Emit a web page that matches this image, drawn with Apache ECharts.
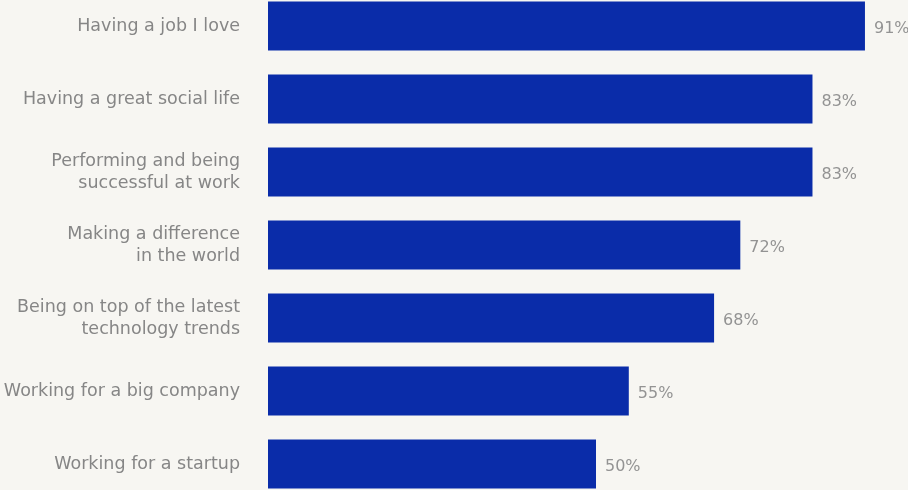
<!DOCTYPE html>
<html>
<head>
<meta charset="utf-8">
<script src="https://cdn.jsdelivr.net/npm/echarts@6/dist/echarts.min.js"></script>
<style>
html,body{margin:0;padding:0;background:#f7f6f2;}
#chart{width:908px;height:490px;}
</style>
</head>
<body>
<div id="chart"></div>
<script>
const categories = [
  "Having a job I love",
  "Having a great social life",
  "Performing and being\nsuccessful at work",
  "Making a difference\nin the world",
  "Being on top of the latest\ntechnology trends",
  "Working for a big company",
  "Working for a startup"
];
const values = [91, 83, 83, 72, 68, 55, 50];

const chart = echarts.init(document.getElementById('chart'));
chart.setOption({
  backgroundColor: '#f7f6f2',
  animation: false,
  grid: { left: 268, right: -16, top: -10.5, bottom: -10.5, containLabel: false, outerBoundsMode: 'none' },
  xAxis: {
    type: 'value', min: 0, max: 100, show: false
  },
  yAxis: {
    type: 'category',
    data: categories,
    inverse: true,
    axisLine: { show: false },
    axisTick: { show: false },
    splitLine: { show: false },
    axisLabel: {
      margin: 28,
      color: '#868686',
      fontSize: 17.5,
      lineHeight: 22,
      fontFamily: '"DejaVu Sans", sans-serif',
      align: 'right'
    }
  },
  series: [{
    type: 'bar',
    data: values,
    barWidth: 49,
    itemStyle: { color: '#0a2ca9' },
    label: {
      show: true,
      position: 'right',
      distance: 9,
      offset: [0, 3],
      color: '#939393',
      fontSize: 16,
      fontFamily: '"DejaVu Sans", sans-serif',
      formatter: p => p.value + '%'
    }
  }]
});
</script>
</body>
</html>
